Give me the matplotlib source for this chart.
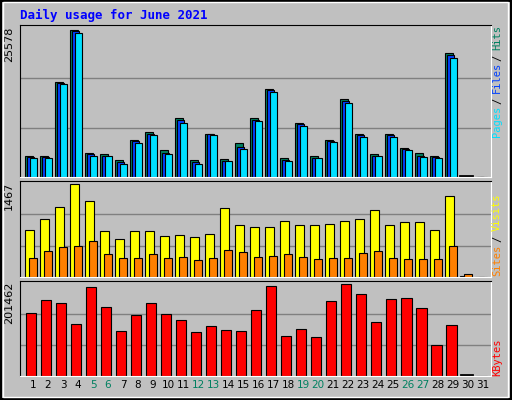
import numpy as np
import matplotlib.pyplot as plt

days = np.arange(1, 32)
# values (day 31 has no data)
hits = [3700, 3700, 16550, 25578, 4050, 3880, 2840, 6480, 7700, 4570, 10130, 2840, 7520, 3010, 5790,
        10300, 15340, 3180, 9430, 3530, 6480, 13600, 7520, 3880, 7520, 5090, 4050, 3700, 21590, 0, 0]
files = [3450, 3450, 16350, 25300, 3900, 3700, 2550, 6150, 7450, 4200, 9800, 2550, 7350, 2800, 5100,
         9950, 15050, 2900, 9100, 3350, 6300, 13200, 7250, 3700, 7200, 4850, 3650, 3450, 21200, 0, 0]
pages = [3180, 3180, 16200, 25060, 3700, 3530, 2310, 5790, 7180, 3880, 9430, 2310, 7180, 2660, 4750,
         9610, 14810, 2660, 8740, 3180, 6130, 12900, 7000, 3530, 6830, 4570, 3360, 3180, 20720, 0, 0]
visits = [736, 911, 1102, 1467, 1197, 720, 593, 720, 720, 641, 657, 625, 673, 1086, 816,
          784, 784, 879, 816, 816, 831, 879, 911, 1054, 816, 863, 863, 736, 1276, 16, 0]
sites = [291, 402, 466, 482, 561, 355, 291, 291, 355, 291, 307, 260, 291, 418, 387,
         307, 323, 355, 307, 275, 291, 291, 371, 402, 291, 275, 275, 275, 482, 37, 0]
kbytes = [137500, 166200, 159600, 113200, 194900, 150700, 97800, 133100, 159600, 135300, 122100,
          95600, 108800, 100000, 97800, 144100, 197100, 86800, 102200, 84600, 164000, 201462,
          179400, 117600, 168400, 170600, 148500, 66900, 111000, 0, 0]
weekend = [5, 6, 12, 13, 19, 20, 26, 27]

C_HITS, C_FILES, C_PAGES = '#008060', '#0040ff', '#00e0ff'
C_VISITS, C_SITES, C_KB = '#ffff00', '#ff8000', '#ff0000'
BG = '#c0c0c0'
MONO = 'DejaVu Sans Mono'

fig = plt.figure(figsize=(5.12, 4), dpi=100, facecolor=BG)
# outer border
fig.patches.append(plt.Rectangle((0.002, 0.002), 0.996, 0.996, transform=fig.transFigure,
                                 fill=False, edgecolor='black', lw=1.5))
fig.patches.append(plt.Rectangle((0.006, 0.008), 0.986, 0.986, transform=fig.transFigure,
                                 fill=False, edgecolor='white', lw=1))

ax1 = fig.add_axes([0.039, 0.558, 0.92, 0.379])
ax2 = fig.add_axes([0.039, 0.308, 0.92, 0.240])
ax3 = fig.add_axes([0.039, 0.061, 0.92, 0.237])
xl = (0.28, 31.68)

def setup(ax, ymax, label):
    ax.set_facecolor(BG)
    ax.set_xlim(*xl)
    ax.set_ylim(0, ymax)
    for f in (0.32, 0.65):
        ax.axhline(ymax * f, color='#808080', lw=1, zorder=0)
    ax.set_xticks([])
    ax.set_yticks([])
    for s in ax.spines.values():
        s.set_color('white')
    ax.spines['left'].set_color('black')
    ax.spines['top'].set_color('black')
    ax.text(-0.012, 0.99, label, transform=ax.transAxes, rotation=90, ha='right', va='top',
            fontsize=8, family='DejaVu Sans')

setup(ax1, 26340, '25578')
d = days
ax1.bar(d - 0.39, hits, width=0.53, align='edge', color=C_HITS, edgecolor='black', lw=0.8)
ax1.bar(d - 0.27, files, width=0.5, align='edge', color=C_FILES, edgecolor='black', lw=0.8)
ax1.bar(d - 0.05, pages, width=0.45, align='edge', color=C_PAGES, edgecolor='black', lw=0.8)
ax1.plot([30 - 0.39, 30 + 0.39], [120, 120], color='black', lw=2)

setup(ax2, 1525, '1467')
ax2.bar(d - 0.39, visits, width=0.58, align='edge', color=C_VISITS, edgecolor='black', lw=0.8)
ax2.bar(d - 0.1, sites, width=0.49, align='edge', color=C_SITES, edgecolor='black', lw=0.8)

setup(ax3, 209600, '201462')
ax3.bar(d - 0.32, kbytes, width=0.7, align='edge', color=C_KB, edgecolor='black', lw=0.8)
ax3.plot([30 - 0.32, 30 + 0.38], [800, 800], color='black', lw=2)

for day in days:
    ax3.text(day + 0.15, -0.1, str(day), transform=ax3.get_xaxis_transform(), ha='center',
             va='center', fontsize=7.5, color=C_HITS if day in weekend else 'black')

fig.text(20 / 512, 1 - 15 / 400, 'Daily usage for June 2021', color='#0000ff', family=MONO,
         fontweight='bold', fontsize=9, va='center', ha='left')

def side(parts, ybottom, step):
    pos = 0
    for txt, col in parts:
        fig.text(497 / 512, 1 - (ybottom - step * pos) / 400, txt, color=col, family=MONO,
                 fontsize=7.5, rotation=90, ha='center', va='bottom')
        pos += len(txt) + 1

side([('Pages', C_PAGES), ('/', 'black'), ('Files', C_FILES), ('/', 'black'), ('Hits', C_HITS)], 137, 5.45)
side([('Sites', C_SITES), ('/', 'black'), ('Visits', C_VISITS)], 276, 5.6)
side([('KBytes', C_KB)], 376, 5.6)

fig.savefig('out.png', dpi=100, facecolor=BG)
